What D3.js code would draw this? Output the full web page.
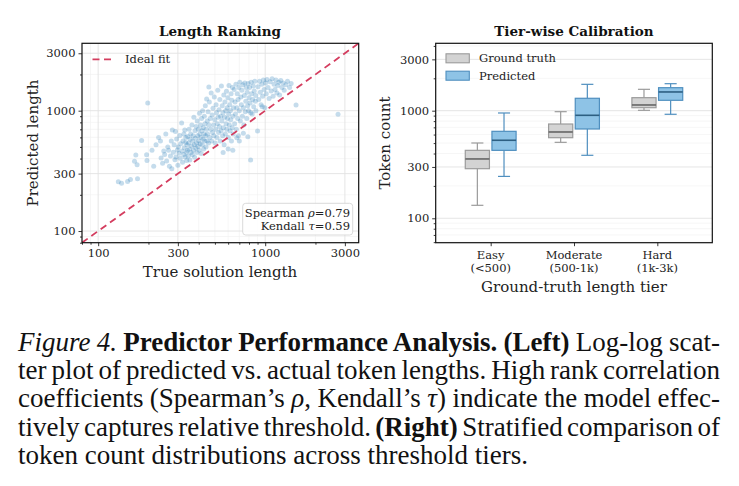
<!DOCTYPE html>
<meta charset="utf-8">
<html>
<head>
  <script src="https://cdn.jsdelivr.net/npm/d3@7"></script>
  <style>
    body { margin: 0; background: #fff; }
    #chart { position: absolute; left: 0; top: 0; }
    #chart text { font-family: "DejaVu Serif", "Liberation Serif", serif; }
    .cap { position: absolute; left: 18px; white-space: nowrap; font-family: "Liberation Serif", "Times New Roman", serif;
           font-size: 27px; line-height: 28px; color: #111; }
    .cap .line { display: inline-block; }
  </style>
</head>
<body>
<div id="chart"></div>
<div id="caption"></div>
<script>
  // --- data ---
  // scatter: [true solution length, predicted length]
  var points = [
    [132,257],[138,250],[150,258],[156,268],[172,272],[198,1160],[182,565],[168,428],[165,380],[171,355],[195,430],[196,385],[210,470],[215,345],
    [222,520],[230,600],[236,560],[238,405],[243,365],[247,462],[250,432],[254,640],[257,382],[261,500],[264,470],[267,345],[271,420],[274,560],[278,690],[276,330],
    [282,452],[285,522],[288,392],[290,670],[292,412],[295,582],[298,472],[300,352],[302,500],[305,442],[308,622],[310,402],[312,532],[316,790],[318,462],[320,372],[322,560],[325,432],[328,492],[330,690],[332,412],[335,600],[338,452],[340,520],[339,385],[334,545],[326,640],
    [342,470],[344,610],[346,420],[348,540],[350,700],[352,480],[354,390],[356,580],[358,640],[360,450],[362,510],[364,760],[366,430],[368,560],[370,620],[372,470],[374,880],[376,520],[378,410],[380,680],[382,590],[384,490],[386,740],[388,540],[390,450],[392,820],[394,620],[396,505],[398,700],[400,560],[402,470],[404,950],[406,640],[408,530],[410,760],[412,600],[414,440],[416,860],[418,680],[420,520],[422,1000],[424,580],[426,720],[428,480],[430,640],[432,900],[434,560],[436,780],[438,1100],[440,620],[442,500],[444,700],[446,1250],[448,560],[450,820],[460,1570],
    [452,640],[455,980],[458,540],[460,760],[463,1180],[466,600],[469,860],[472,700],[475,1400],[478,560],[481,920],[484,660],[487,1050],[490,760],[493,620],[496,1300],[499,840],[502,540],[505,700],[508,1120],[511,960],[514,600],[517,780],[520,1480],[523,880],[526,660],[529,1020],[532,740],[535,1240],[538,560],[541,900],[544,680],[547,1600],[550,820],[553,1100],[556,620],[559,960],[562,720],[565,1350],[568,520],[571,880],[574,1180],[577,640],[580,1000],[583,780],[586,1450],[589,700],[592,1060],[595,860],[598,1280],[601,600],[604,940],[607,1620],[610,760],[613,1120],[616,680],[619,1000],[622,840],[625,1380],[628,560],[631,1220],[634,720],[637,1560],[640,900],[643,640],[646,1060],
    [652,1500],[656,780],[660,1180],[664,940],[668,1660],[672,700],[676,1060],[680,1380],[684,860],[688,1240],[692,620],[696,1560],[700,1000],[705,1720],[710,820],[715,1300],[720,1120],[725,1480],[730,900],[735,1640],[740,1060],[745,760],[750,1340],[755,1700],[760,980],[765,1200],[770,1560],[775,860],[780,1420],[785,1100],[790,1680],[795,1000],[800,1280],[806,1560],[812,1160],[818,390],[824,1720],[830,1380],[836,940],[842,1240],[848,1600],[854,1080],[860,1460],[866,1760],[872,1200],[878,1340],
    [676,597],[787,607],[900,677],[640,470],[600,480],[560,450],[700,560],[740,650],
    [905,1580],[915,1240],[925,1760],[935,1420],[945,1120],[955,1660],[965,1320],[975,1800],[985,1500],[995,1060],[1005,1700],[1015,1380],[1025,1820],[1040,1560],[1055,1260],[1070,1740],[1085,1460],[1100,1840],[1115,1320],[1130,1660],[1145,1500],[1160,1800],[1175,1400],[1190,1620],[1205,1720],[1220,1350],[1240,1780],[1260,1560],[1280,1700],[1300,1480],[1330,1640],[1360,1760],[1400,1560],[1430,1680],[1530,1114],[2730,933],
    [880,1000],[960,1080],[820,960]
  ];
  var lengthTicks = [100, 300, 1000, 3000];
  var spearman = "0.79", kendall = "0.59";

  var tiers = ["Easy", "Moderate", "Hard"];
  var tierRanges = ["(<500)", "(500-1k)", "(1k-3k)"];
  // [low whisker, q1, median, q3, high whisker]
  var groundTruth = [[132,289,356,428,501], [508,561,634,752,979], [1008,1066,1130,1321,1580]];
  var predicted   = [[245,428,531,643,952], [385,676,906,1304,1758], [926,1249,1493,1636,1782]];

  var captionLines = [
    [["Figure 4.", "i"], [" "], ["Predictor Performance Analysis.", "b"], [" "], ["(Left)", "b"], [" Log-log scat-"]],
    [["ter plot of predicted vs. actual token lengths. High rank correlation"]],
    [["coefficients (Spearman’s "], ["ρ", "i"], [", Kendall’s "], ["τ", "i"], [") indicate the model effec-"]],
    [["tively captures relative threshold. "], ["(Right)", "b"], [" Stratified comparison of"]],
    [["token count distributions across threshold tiers."]]
  ];

  var svg = d3.select("#chart").append("svg").attr("width", 739).attr("height", 300);

  function isMajor(v) { return lengthTicks.some(function(t) { return Math.abs(t - v) < 1e-6; }); }

  function styleAxis(g, size) {
    g.select(".domain").remove();
    g.selectAll("line").attr("stroke", "#222").attr("stroke-width", 0.9);
    g.selectAll("text").attr("font-family", null).attr("font-size", size).attr("fill", "#222");
  }

  // ---------- left: Length Ranking ----------
  var L = {x0: 82, x1: 358.7, y0: 43.3, y1: 242.7};
  var x = d3.scaleLog().domain([80, 3630]).range([L.x0, L.x1]);
  var y = d3.scaleLog().domain([80, 3630]).range([L.y1, L.y0]);
  var minorX = x.ticks().filter(function(v) { return !isMajor(v); });
  var minorY = y.ticks().filter(function(v) { return !isMajor(v); });

  var left = svg.append("g");
  left.append("clipPath").attr("id", "clipL").append("rect")
      .attr("x", L.x0).attr("y", L.y0).attr("width", L.x1 - L.x0).attr("height", L.y1 - L.y0);

  var grid = left.append("g");
  grid.selectAll(".vminor").data(minorX).enter().append("line")
      .attr("x1", x).attr("x2", x).attr("y1", L.y0).attr("y2", L.y1)
      .attr("stroke", "#f0f0f0").attr("stroke-width", 0.6);
  grid.selectAll(".hminor").data(minorY).enter().append("line")
      .attr("y1", y).attr("y2", y).attr("x1", L.x0).attr("x2", L.x1)
      .attr("stroke", "#f0f0f0").attr("stroke-width", 0.6);
  grid.selectAll(".vmajor").data(lengthTicks).enter().append("line")
      .attr("x1", x).attr("x2", x).attr("y1", L.y0).attr("y2", L.y1)
      .attr("stroke", "#e2e2e2").attr("stroke-width", 0.9);
  grid.selectAll(".hmajor").data(lengthTicks).enter().append("line")
      .attr("y1", y).attr("y2", y).attr("x1", L.x0).attr("x2", L.x1)
      .attr("stroke", "#e2e2e2").attr("stroke-width", 0.9);

  left.append("g").attr("clip-path", "url(#clipL)")
    .selectAll("circle").data(points).enter().append("circle")
      .attr("cx", function(d) { return x(d[0]); })
      .attr("cy", function(d) { return y(d[1]); })
      .attr("r", 2.5)
      .attr("fill", "#1f77b4").attr("fill-opacity", 0.26);

  var dom = x.domain();
  left.append("line").attr("clip-path", "url(#clipL)")
      .attr("x1", x(dom[0])).attr("y1", y(dom[0])).attr("x2", x(dom[1])).attr("y2", y(dom[1]))
      .attr("stroke", "#d43d5f").attr("stroke-width", 1.8).attr("stroke-dasharray", "7,4.5");

  // legend
  left.append("line").attr("x1", 92.5).attr("x2", 115.5).attr("y1", 59.3).attr("y2", 59.3)
      .attr("stroke", "#d43d5f").attr("stroke-width", 1.8).attr("stroke-dasharray", "7,4.5");
  left.append("text").attr("x", 125).attr("y", 63.3).text("Ideal fit")
      .attr("font-size", 11.5).attr("fill", "#222");

  // stats box
  left.append("rect").attr("x", 242.7).attr("y", 203.3).attr("width", 110).attr("height", 31.7).attr("rx", 3)
      .attr("fill", "#fff").attr("fill-opacity", 0.85).attr("stroke", "#d0d0d0").attr("stroke-width", 0.8);
  var st = left.append("text").attr("x", 350).attr("y", 216.8).attr("text-anchor", "end")
      .attr("font-size", 11.5).attr("fill", "#222");
  st.append("tspan").text("Spearman ");
  st.append("tspan").attr("font-style", "italic").text("ρ");
  st.append("tspan").text("=" + spearman);
  var kt = left.append("text").attr("x", 350).attr("y", 230.3).attr("text-anchor", "end")
      .attr("font-size", 11.5).attr("fill", "#222");
  kt.append("tspan").text("Kendall ");
  kt.append("tspan").attr("font-style", "italic").text("τ");
  kt.append("tspan").text("=" + kendall);

  // axes
  var gx = left.append("g").attr("transform", "translate(0," + L.y1 + ")")
      .call(d3.axisBottom(x).tickValues(lengthTicks).tickFormat(d3.format("d")).tickSize(3.5).tickPadding(3));
  styleAxis(gx, 11.5);
  var gxm = left.append("g").attr("transform", "translate(0," + L.y1 + ")")
      .call(d3.axisBottom(x).tickValues(minorX).tickFormat("").tickSize(2));
  styleAxis(gxm, 11.5);
  var gy = left.append("g").attr("transform", "translate(" + L.x0 + ",0)")
      .call(d3.axisLeft(y).tickValues(lengthTicks).tickFormat(d3.format("d")).tickSize(3.5).tickPadding(3));
  styleAxis(gy, 11.5);
  var gym = left.append("g").attr("transform", "translate(" + L.x0 + ",0)")
      .call(d3.axisLeft(y).tickValues(minorY).tickFormat("").tickSize(2));
  styleAxis(gym, 11.5);

  left.append("rect").attr("x", L.x0).attr("y", L.y0).attr("width", L.x1 - L.x0).attr("height", L.y1 - L.y0)
      .attr("fill", "none").attr("stroke", "#111").attr("stroke-width", 1.2);

  left.append("text").attr("x", 220).attr("y", 36).attr("text-anchor", "middle")
      .attr("font-weight", "bold").attr("font-size", 13.5).attr("fill", "#111")
      .text("Length Ranking");
  left.append("text").attr("x", 220).attr("y", 277).attr("text-anchor", "middle")
      .attr("font-size", 15).attr("fill", "#222")
      .text("True solution length");
  left.append("text").attr("transform", "translate(38,143) rotate(-90)").attr("text-anchor", "middle")
      .attr("font-size", 15).attr("fill", "#222")
      .text("Predicted length");

  // ---------- right: Tier-wise Calibration ----------
  var R = {x0: 435.7, x1: 712.3, y0: 43.3, y1: 242.7};
  var xr = d3.scaleLinear().domain([-0.66, 2.66]).range([R.x0, R.x1]);
  var yr = d3.scaleLog().domain([59.3, 4230]).range([R.y1, R.y0]);
  var minorR = yr.ticks().filter(function(v) { return !isMajor(v); });

  var right = svg.append("g");
  right.selectAll(".rminor").data(minorR).enter().append("line")
      .attr("y1", yr).attr("y2", yr).attr("x1", R.x0).attr("x2", R.x1)
      .attr("stroke", "#f0f0f0").attr("stroke-width", 0.6);
  right.selectAll(".rmajor").data(lengthTicks).enter().append("line")
      .attr("y1", yr).attr("y2", yr).attr("x1", R.x0).attr("x2", R.x1)
      .attr("stroke", "#e2e2e2").attr("stroke-width", 0.9);

  var series = [
    {name: "Ground truth", data: groundTruth, off: -0.16, fill: "#d3d3d3", edge: "#9b9b9b", med: "#666"},
    {name: "Predicted", data: predicted, off: 0.16, fill: "#8ec3e6", edge: "#4f8fbf", med: "#2d5f82"}
  ];
  var hw = xr(0.145) - xr(0);

  series.forEach(function(s) {
    var g = right.append("g");
    s.data.forEach(function(b, i) {
      var cx = xr(i + s.off);
      g.append("line").attr("x1", cx).attr("x2", cx).attr("y1", yr(b[0])).attr("y2", yr(b[1]))
          .attr("stroke", s.edge).attr("stroke-width", 1.2);
      g.append("line").attr("x1", cx).attr("x2", cx).attr("y1", yr(b[3])).attr("y2", yr(b[4]))
          .attr("stroke", s.edge).attr("stroke-width", 1.2);
      [b[0], b[4]].forEach(function(v) {
        g.append("line").attr("x1", cx - hw / 2).attr("x2", cx + hw / 2).attr("y1", yr(v)).attr("y2", yr(v))
            .attr("stroke", s.edge).attr("stroke-width", 1.2);
      });
      g.append("rect").attr("x", cx - hw).attr("width", 2 * hw)
          .attr("y", yr(b[3])).attr("height", yr(b[1]) - yr(b[3]))
          .attr("fill", s.fill).attr("stroke", s.edge).attr("stroke-width", 1.2);
      g.append("line").attr("x1", cx - hw).attr("x2", cx + hw).attr("y1", yr(b[2])).attr("y2", yr(b[2]))
          .attr("stroke", s.med).attr("stroke-width", 1.6);
    });
  });

  // legend
  series.forEach(function(s, i) {
    var ly = 58.3 + i * 17.4;
    right.append("rect").attr("x", 446).attr("y", ly - 4.5).attr("width", 23.3).attr("height", 9)
        .attr("fill", s.fill).attr("stroke", s.edge).attr("stroke-width", 1.1);
    right.append("text").attr("x", 479).attr("y", ly + 4).text(s.name)
        .attr("font-size", 11.5).attr("fill", "#222");
  });

  var gxr = right.append("g").attr("transform", "translate(0," + R.y1 + ")")
      .call(d3.axisBottom(xr).tickValues([0, 1, 2]).tickFormat("").tickSize(3.5));
  styleAxis(gxr, 11.5);
  tiers.forEach(function(t, i) {
    var tx = right.append("text").attr("x", xr(i)).attr("y", 259).attr("text-anchor", "middle")
        .attr("font-size", 11.5).attr("fill", "#222");
    tx.append("tspan").attr("x", xr(i)).text(t);
    tx.append("tspan").attr("x", xr(i)).attr("dy", 13.3).text(tierRanges[i]);
  });
  var gyr = right.append("g").attr("transform", "translate(" + R.x0 + ",0)")
      .call(d3.axisLeft(yr).tickValues(lengthTicks).tickFormat(d3.format("d")).tickSize(3.5).tickPadding(3));
  styleAxis(gyr, 11.5);
  var gyrm = right.append("g").attr("transform", "translate(" + R.x0 + ",0)")
      .call(d3.axisLeft(yr).tickValues(minorR).tickFormat("").tickSize(2));
  styleAxis(gyrm, 11.5);

  right.append("rect").attr("x", R.x0).attr("y", R.y0).attr("width", R.x1 - R.x0).attr("height", R.y1 - R.y0)
      .attr("fill", "none").attr("stroke", "#111").attr("stroke-width", 1.2);

  right.append("text").attr("x", 574).attr("y", 36).attr("text-anchor", "middle")
      .attr("font-weight", "bold").attr("font-size", 13.5).attr("fill", "#111")
      .text("Tier-wise Calibration");
  right.append("text").attr("x", 574).attr("y", 292).attr("text-anchor", "middle")
      .attr("font-size", 15).attr("fill", "#222")
      .text("Ground-truth length tier");
  right.append("text").attr("transform", "translate(390,143) rotate(-90)").attr("text-anchor", "middle")
      .attr("font-size", 15).attr("fill", "#222")
      .text("Token count");

  // ---------- caption (justified lines) ----------
  var capWidth = 702;
  captionLines.forEach(function(segs, i) {
    var div = d3.select("#caption").append("div").attr("class", "cap").style("top", (328 + i * 28.2) + "px");
    var line = div.append("span").attr("class", "line");
    segs.forEach(function(s) {
      var sp = line.append("span").text(s[0]);
      if (s[1] === "i") sp.style("font-style", "italic");
      if (s[1] === "b") sp.style("font-weight", "bold");
    });
    if (i < captionLines.length - 1) {
      var w = line.node().getBoundingClientRect().width;
      var nSpaces = segs.map(function(s) { return s[0]; }).join("").split(" ").length - 1;
      line.style("word-spacing", ((capWidth - w) / nSpaces) + "px");
    }
  });
</script>
</body>
</html>
